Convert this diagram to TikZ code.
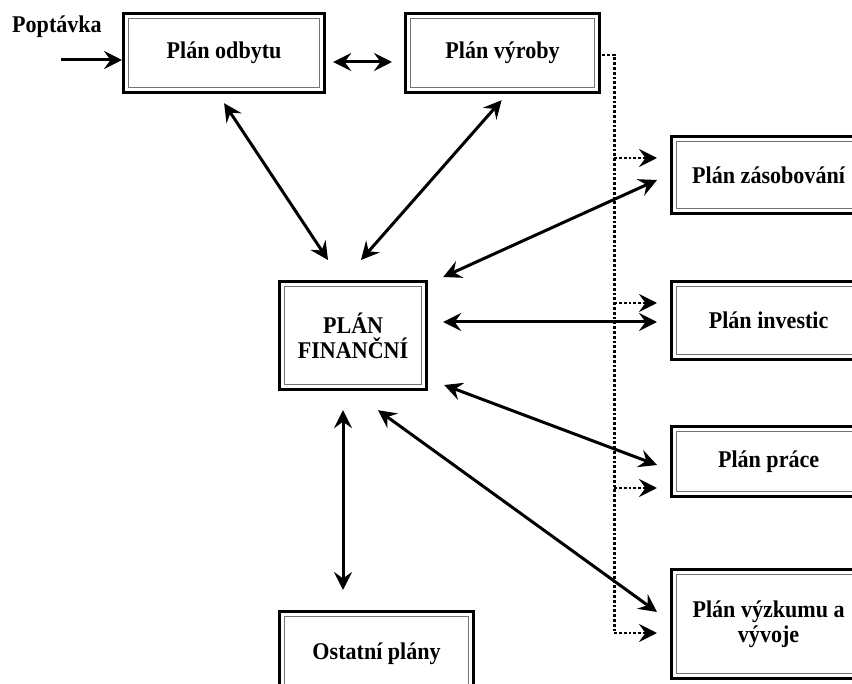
\documentclass[tikz,border=0pt]{standalone}
\usepackage{fontspec}
\setmainfont{Liberation Serif}
\newfontfamily\planfont[FakeStretch=0.92]{Liberation Serif}
\usetikzlibrary{arrows.meta,calc}

\tikzset{
  planbox/.style={draw=black, line width=3.2pt, fill=white, inner sep=0pt,
    align=center, anchor=north west,
    font=\planfont\fontsize{24}{25}\selectfont\bfseries,
    path picture={\draw[line width=1.3pt, black!55]
      ([shift={(5pt,-5pt)}]path picture bounding box.north west) rectangle
      ([shift={(-5pt,5pt)}]path picture bounding box.south east);}},
  link/.style={line width=3pt, {Stealth[length=18pt,width=18pt,inset=6.5pt]}-{Stealth[length=18pt,width=18pt,inset=6.5pt]}},
  feed/.style={line width=3pt, -{Stealth[length=18pt,width=18pt,inset=6.5pt]}},
  dotline/.style={line width=2.8pt, dash pattern=on 2.8pt off 2pt},
  dotfeed/.style={dotline, -{Stealth[length=18pt,width=18pt,inset=6.5pt]}},
  label/.style={font=\planfont\fontsize{24}{25}\selectfont\bfseries, inner sep=0pt}
}

\begin{document}
\begin{tikzpicture}[x=1pt,y=-1pt]
  \useasboundingbox (0,0) rectangle (852,684);
  \clip (0,0) rectangle (852,684);

  % plan boxes
  \node[planbox, minimum width=201pt, minimum height=79pt] (odbyt) at (122,12) {Plán odbytu};
  \node[planbox, minimum width=194pt, minimum height=79pt] (vyroba) at (404,12) {Plán výroby};
  \node[planbox, minimum width=147pt, minimum height=108pt] (fin) at (278,280) {PLÁN\\FINANČNÍ};
  \node[planbox, minimum width=194pt, minimum height=84pt] (ostatni) at (278,610) {Ostatní plány};
  \node[planbox, minimum width=194pt, minimum height=77pt] (zasob) at (670,135) {Plán zásobování};
  \node[planbox, minimum width=194pt, minimum height=78pt] (invest) at (670,280) {Plán investic};
  \node[planbox, minimum width=194pt, minimum height=70pt] (prace) at (670,425) {Plán práce};
  \node[planbox, minimum width=194pt, minimum height=109pt] (vyzkum) at (670,568) {Plán výzkumu a\\vývoje};

  % incoming demand
  \node[label, anchor=west] (poptavka) at (12,27) {Poptávka};
  \coordinate (popstart) at (61,60);
  \draw[feed] (popstart) -- ($(odbyt.north west)+(0,48)$);

  % two-way links between the plans
  \draw[link] ($(odbyt.north east)+(7,50)$) -- ($(vyroba.north west)+(-12,50)$);
  \draw[link] ($(odbyt.south)+(0,9)$) -- ($(fin.north west)+(50,-20)$);
  \draw[link] ($(vyroba.south)+(-1,6)$) -- ($(fin.north west)+(83,-20)$);
  \draw[link] ($(zasob.north west)+(-13,45)$) -- ($(fin.north east)+(15,-3)$);
  \draw[link] ($(fin.north east)+(15,42)$) -- ($(invest.north west)+(-13,42)$);
  \draw[link] ($(fin.north east)+(16,105)$) -- ($(prace.north west)+(-13,40)$);
  \draw[link] ($(fin.south west)+(100,19)$) -- ($(vyzkum.north west)+(-13,44)$);
  \draw[link] ($(fin.south west)+(65,19)$) -- ($(ostatni.north west)+(65,-20)$);

  % dotted feed from production plan
  \coordinate (spine) at ($(vyroba.north east)+(13,43)$);
  \draw[dotline] ($(vyroba.north east)+(1,43)$) -- (spine) -- (spine |- 0,633);
  \draw[dotfeed] (spine |- 0,158) -- ($(zasob.north west)+(-13,23)$);
  \draw[dotfeed] (spine |- 0,303) -- ($(invest.north west)+(-13,23)$);
  \draw[dotfeed] (spine |- 0,488) -- ($(prace.north west)+(-13,63)$);
  \draw[dotfeed] (spine |- 0,633) -- ($(vyzkum.north west)+(-13,65)$);
\end{tikzpicture}
\end{document}
